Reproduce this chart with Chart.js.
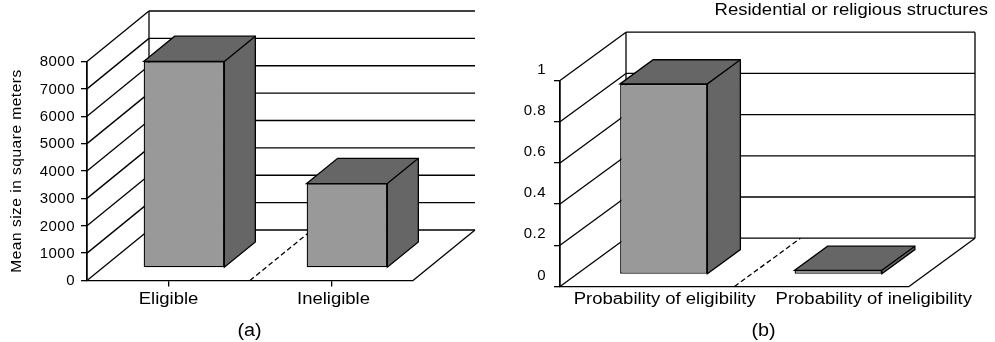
<!DOCTYPE html>
<html>
<head>
<meta charset="utf-8">
<script src="https://cdn.jsdelivr.net/npm/chart.js@4/dist/chart.umd.js"></script>
<style>
html,body{margin:0;padding:0;background:#fff;width:995px;height:342px;overflow:hidden}
canvas{position:absolute;top:0}
</style>
</head>
<body>
<canvas id="a" width="500" height="342" style="left:0"></canvas>
<canvas id="b" width="495" height="342" style="left:500px"></canvas>
<script>
const categoriesA = ['Eligible', 'Ineligible'];
const valuesA = [7540, 3080];
const categoriesB = ['Probability of eligibility', 'Probability of ineligibility'];
const valuesB = [0.925, 0.02];
const captionA = '(a)';
const captionB = '(b)';
const titleB = 'Residential or religious structures';
const yTitleA = 'Mean size in square meters';

const FONT = 'Liberation Sans, Arial, Helvetica, sans-serif';
const FRONT = '#999999', DARK = '#666666';
const LW = 1.3;

function wideText(ctx, text, x, y, sx) {
  ctx.save();
  ctx.translate(x, y);
  ctx.scale(sx, 1);
  ctx.fillText(text, 0, 0);
  ctx.restore();
}

const pseudo3d = {
  id: 'pseudo3d',
  beforeDraw(chart, args, o) {
    chart.ctx.letterSpacing = o.spacing;
  },
  beforeDatasetsDraw(chart, args, o) {
    const {ctx, scales: {x, y}, chartArea: ca} = chart;
    const L = ca.left, R = ca.right, B = y.getPixelForValue(0), T = y.getPixelForValue(y.max);
    const dx = o.dx, dy = o.dy;
    const line = (x0, y0, x1, y1) => { ctx.beginPath(); ctx.moveTo(x0, y0); ctx.lineTo(x1, y1); ctx.stroke(); };
    ctx.save();
    ctx.strokeStyle = '#000'; ctx.lineWidth = LW;
    // walls and gridlines
    y.ticks.forEach(t => {
      const p = y.getPixelForValue(t.value);
      line(L, p, L + dx, p - dy);
      line(L + dx, p - dy, R + dx, p - dy);
    });
    line(L, B, L, T);
    line(L + dx, B - dy, L + dx, T - dy);
    line(R, B, R + dx, B - dy);
    if (o.rightWall) line(R + dx, B - dy, R + dx, T - dy);
    // category divider on the floor
    const mid = (x.getPixelForTick(0) + x.getPixelForTick(1)) / 2;
    ctx.setLineDash([5, 3]);
    line(mid, B, mid + dx, B - dy);
    ctx.setLineDash([]);
    // bar side and top faces
    const meta = chart.getDatasetMeta(0);
    meta.data.forEach(bar => {
      const hw = bar.width / 2;
      const sx = dx * 0.25, sy = dy * 0.25, ex = dx * 0.5, ey = dy * 0.5;
      const l = bar.x - hw + sx, r = bar.x + hw + sx, t = bar.y - sy, b = bar.base - sy;
      ctx.fillStyle = DARK;
      ctx.beginPath();
      ctx.moveTo(l, t); ctx.lineTo(l + ex, t - ey); ctx.lineTo(r + ex, t - ey);
      ctx.lineTo(r + ex, b - ey); ctx.lineTo(r, b); ctx.lineTo(r, t); ctx.closePath();
      ctx.fill(); ctx.stroke();
      line(r, t, r + ex, t - ey);
    });
    ctx.restore();
  },
  beforeDatasetDraw(chart, args, o) {
    chart.ctx.save();
    chart.ctx.translate(o.dx * 0.25, -o.dy * 0.25);
  },
  afterDatasetDraw(chart) {
    chart.ctx.restore();
  },
  afterDraw(chart, args, o) {
    const {ctx, scales: {x}} = chart;
    ctx.save();
    ctx.letterSpacing = '0px';
    ctx.fillStyle = '#000';
    ctx.textBaseline = 'middle';
    ctx.font = o.labelFont;
    ctx.textAlign = 'center';
    chart.data.labels.forEach((lab, i) => {
      wideText(ctx, lab, x.getPixelForTick(i) + o.labelShift[i], o.labelY, o.stretch);
    });
    ctx.font = o.captionFont;
    wideText(ctx, o.caption, o.captionX, o.captionY, 1.1);
    if (o.title) {
      ctx.font = o.titleFont;
      ctx.textAlign = 'right';
      wideText(ctx, o.title, o.titleX, o.titleY, o.stretch);
    }
    ctx.restore();
  }
};

function panel(id, labels, values, cfg) {
  return new Chart(document.getElementById(id), {
    type: 'bar',
    plugins: [pseudo3d],
    data: { labels, datasets: [{
      data: values, backgroundColor: FRONT, borderColor: '#000', borderWidth: LW,
      borderSkipped: false, barPercentage: 1, categoryPercentage: cfg.catPct, clip: false
    }]},
    options: {
      responsive: false, animation: false, devicePixelRatio: 1,
      events: [],
      layout: { padding: { top: cfg.top, right: cfg.right, left: 0, bottom: 0 } },
      plugins: {
        legend: { display: false }, tooltip: { enabled: false }, title: { display: false },
        pseudo3d: cfg.deco
      },
      scales: {
        x: {
          grid: { drawOnChartArea: false, offset: false, drawTicks: cfg.xTicks, tickLength: 6, color: '#000', lineWidth: LW },
          border: { color: '#000', width: LW },
          ticks: { display: false },
          afterFit(s) { s.height = cfg.xHeight; }
        },
        y: {
          min: 0, max: cfg.max,
          afterBuildTicks(s) { s.ticks = cfg.ticks.map(v => ({ value: v })); },
          grid: { drawOnChartArea: false, tickLength: 6, color: '#000', lineWidth: LW },
          border: { color: '#000', width: LW },
          title: cfg.yTitle ? { display: true, text: cfg.yTitle, color: '#000',
            font: { family: FONT, size: 15.5 }, padding: { top: 7, bottom: 0 } } : { display: false },
          ticks: {
            color: '#000', font: { family: FONT, size: 15 }, padding: cfg.tickPad,
            labelOffset: cfg.labelOffset, autoSkip: false, maxRotation: 0,
            callback: v => String(v)
          },
          afterFit(s) { s.width = cfg.yWidth; }
        }
      }
    }
  });
}

const ticksA = [0,1000,2000,3000,4000,5000,6000,7000,8000];
const ticksB = [0,0.2,0.4,0.6,0.8,1];

panel('a', categoriesA, valuesA, {
  catPct: 0.495, top: 61.5, right: 87, xHeight: 61.5, yWidth: 87, max: 8000, ticks: ticksA,
  xTicks: true, tickPad: 6, labelOffset: 0.7, yTitle: yTitleA,
  deco: { dx: 62, dy: 50.5, rightWall: false, spacing: '0.5px', stretch: 1.156,
    labelFont: '16px ' + FONT, labelShift: [0, 2], labelY: 299.5,
    caption: captionA, captionFont: '18px ' + FONT, captionX: 249.5, captionY: 331 }
});
panel('b', categoriesB, valuesB, {
  catPct: 0.5, top: 80.5, right: 86, xHeight: 55.5, yWidth: 60, max: 1, ticks: ticksB,
  xTicks: false, tickPad: 8, labelOffset: -11, yTitle: null,
  deco: { dx: 66, dy: 48.3, rightWall: true, spacing: '0.5px', stretch: 1.156,
    labelFont: '16px ' + FONT, labelShift: [17.5, 52], labelY: 299.5,
    caption: captionB, captionFont: '18px ' + FONT, captionX: 263.5, captionY: 331,
    title: titleB, titleFont: '16px ' + FONT, titleX: 488, titleY: 10.5 }
});
</script>
</body>
</html>
